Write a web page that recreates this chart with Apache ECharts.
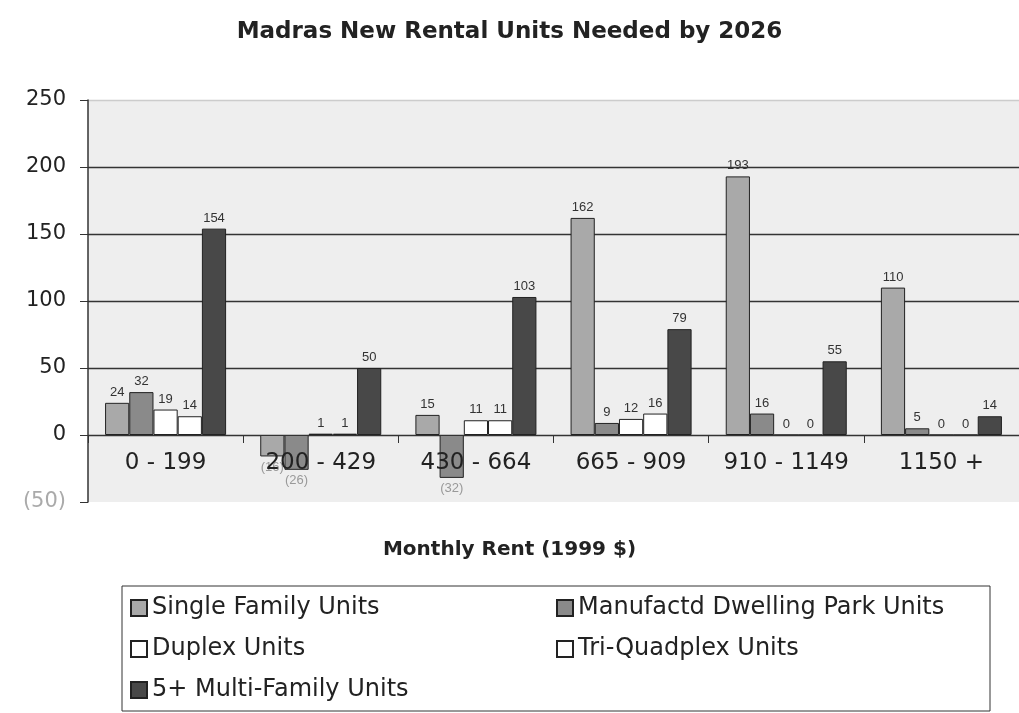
<!DOCTYPE html>
<html>
<head>
<meta charset="utf-8">
<script src="https://cdn.jsdelivr.net/npm/echarts@6/dist/echarts.min.js"></script>
<style>
	html, body { margin: 0; padding: 0; background: #fff; }
	#chart { width: 1019px; height: 713px; }
</style>
</head>
<body>
<div id="chart"></div>
<script>
	var categories = ['0 - 199', '200 - 429', '430 - 664', '665 - 909', '910 - 1149', '1150 +'];
	var singleFamily = [24, -16, 15, 162, 193, 110];
	var manufactured = [32, -26, -32, 9, 16, 5];
	var duplex = [19, 1, 11, 12, 0, 0];
	var triQuad = [14, 1, 11, 16, 0, 0];
	var multiFamily = [154, 50, 103, 79, 55, 14];
	var seriesNames = ['Single Family Units', 'Manufactd Dwelling Park Units', 'Duplex Units', 'Tri-Quadplex Units', '5+ Multi-Family Units'];

	var fontFamily = 'DejaVu Sans, Arial, sans-serif';
	var smallFont = 'Liberation Sans, Arial, sans-serif';

	function fmt(v) {
		return v < 0 ? '(' + (-v) + ')' : String(v);
	}

	function makeSeries(name, values, color) {
		return {
			name: name,
			type: 'bar',
			barGap: '0%',
			barCategoryGap: '22%',
			itemStyle: {
				color: color,
				borderColor: '#222',
				borderWidth: 1
			},
			label: {
				show: true,
				fontSize: 13,
				fontFamily: smallFont,
				color: '#333',
				distance: 4,
				formatter: function (p) { return fmt(p.value); }
			},
			data: values.map(function (v) {
				return {
					value: v,
					label: v < 0 ? { position: 'bottom', color: '#999' } : { position: 'top' }
				};
			})
		};
	}

	var legendText = { fontSize: 24, color: '#222', fontFamily: fontFamily, lineHeight: 28 };

	var option = {
		backgroundColor: '#fff',
		animation: false,
		title: [{
			text: 'Madras New Rental Units Needed by 2026',
			left: 'center',
			top: 16,
			textStyle: { fontSize: 23, fontWeight: 'bold', color: '#222', fontFamily: fontFamily }
		}, {
			text: 'Monthly Rent (1999 $)',
			left: 'center',
			top: 535,
			textStyle: { fontSize: 20, fontWeight: 'bold', color: '#222', fontFamily: fontFamily }
		}],
		grid: {
			left: 88,
			right: -5,
			top: 100,
			bottom: 211,
			show: true,
			backgroundColor: '#eeeeee',
			borderWidth: 0
		},
		legend: [{
			orient: 'vertical',
			left: 130,
			top: 594,
			padding: 0,
			icon: 'rect',
			itemWidth: 16,
			itemHeight: 16,
			itemGap: 13,
			textStyle: legendText,
			data: [seriesNames[0], seriesNames[2], seriesNames[4]]
		}, {
			orient: 'vertical',
			left: 556,
			top: 594,
			padding: 0,
			icon: 'rect',
			itemWidth: 16,
			itemHeight: 16,
			itemGap: 13,
			textStyle: legendText,
			data: [seriesNames[1], seriesNames[3]]
		}],
		graphic: [{
			type: 'rect',
			shape: { x: 122, y: 586, width: 868, height: 125 },
			style: { fill: 'none', stroke: '#333', lineWidth: 1 }
		}],
		xAxis: {
			type: 'category',
			data: categories,
			position: 'bottom',
			offset: -67,
			z: 5,
			axisLine: { onZero: false, lineStyle: { color: '#333', width: 1 } },
			axisTick: { show: true, interval: 0, length: 8, lineStyle: { color: '#333' } },
			axisLabel: { interval: 0, fontSize: 23, color: '#222', margin: 17, fontFamily: fontFamily }
		},
		yAxis: {
			type: 'value',
			min: -50,
			max: 250,
			interval: 50,
			axisLine: { show: true, lineStyle: { color: '#333', width: 1.5 } },
			axisTick: { show: true, length: 8, lineStyle: { color: '#333' } },
			axisLabel: {
				fontSize: 21,
				margin: 22,
				fontFamily: fontFamily,
				formatter: fmt,
				color: function (v) { return v < 0 ? '#aaa' : '#222'; }
			},
			splitLine: {
				show: true,
				lineStyle: { color: ['transparent', '#333', '#333', '#333', '#333', '#333', '#ccc'], width: 1.3 }
			}
		},
		series: [
			makeSeries(seriesNames[0], singleFamily, '#a9a9a9'),
			makeSeries(seriesNames[1], manufactured, '#8a8a8a'),
			makeSeries(seriesNames[2], duplex, '#ffffff'),
			makeSeries(seriesNames[3], triQuad, '#ffffff'),
			makeSeries(seriesNames[4], multiFamily, '#484848')
		]
	};

	var myChart = echarts.init(document.getElementById('chart'));
	myChart.setOption(option);
</script>
</body>
</html>
